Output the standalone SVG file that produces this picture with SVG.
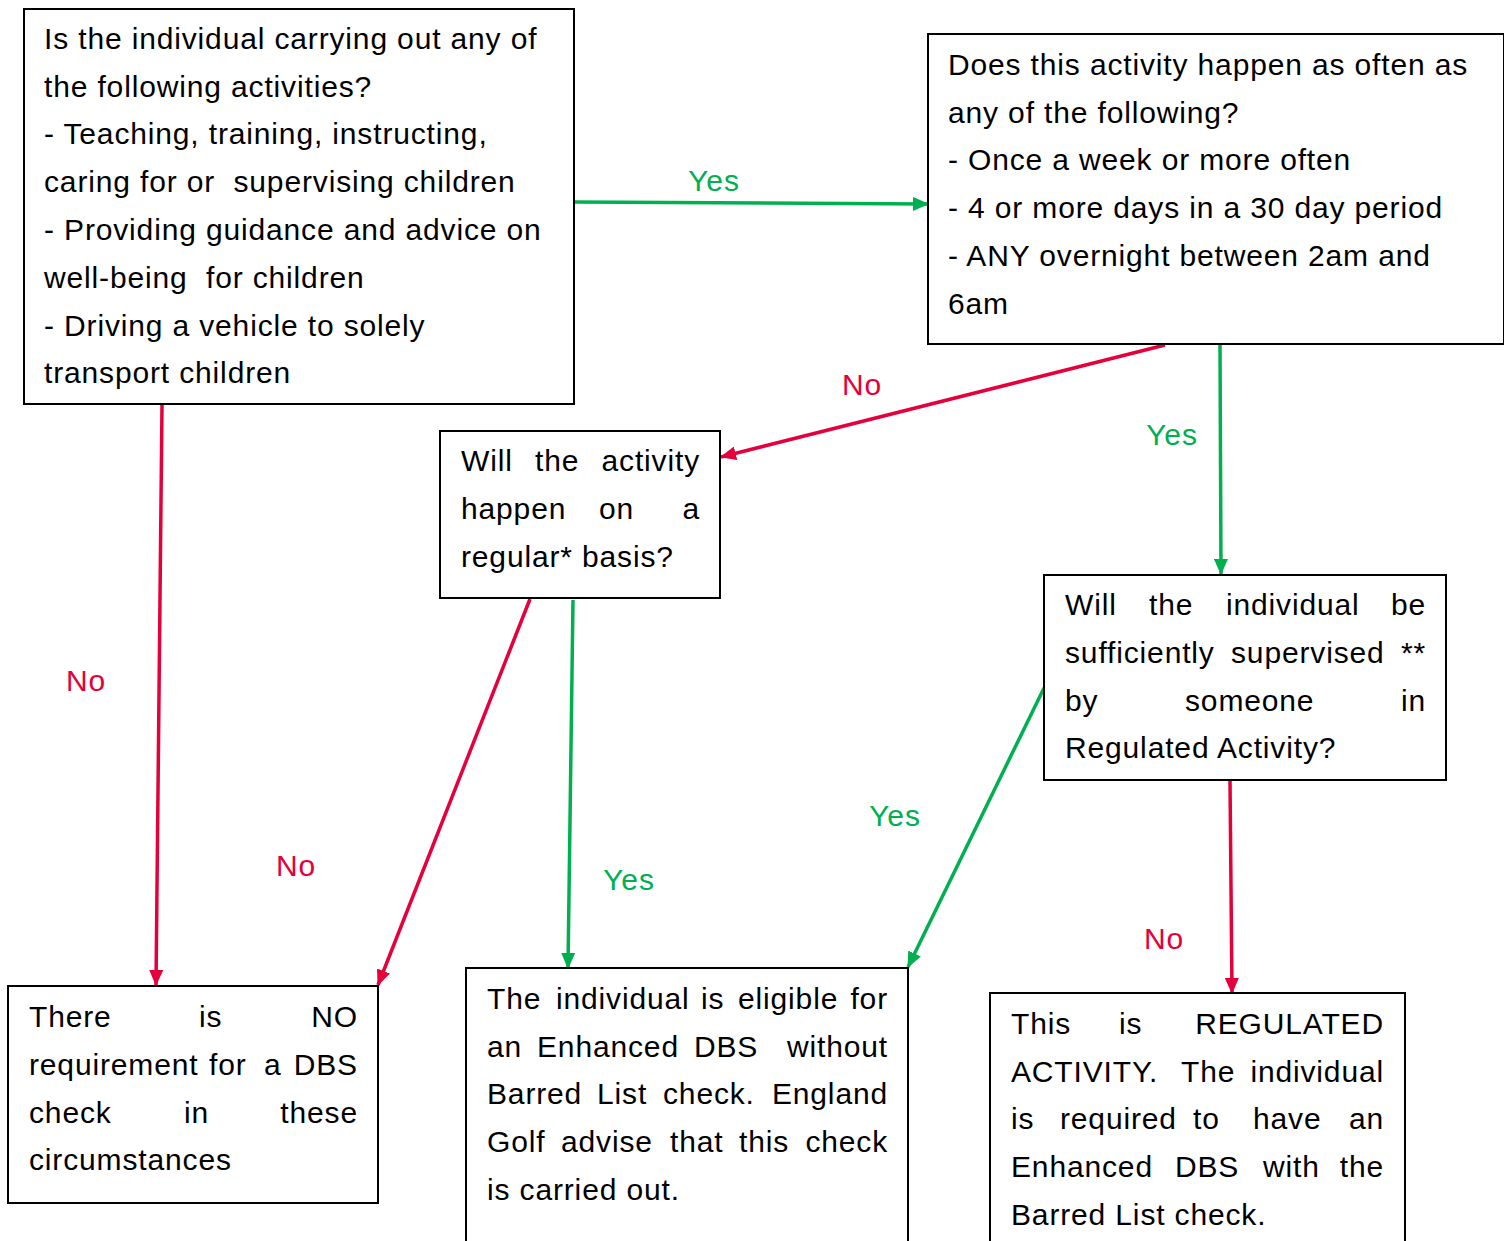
<svg xmlns="http://www.w3.org/2000/svg" width="1504" height="1241" viewBox="0 0 1504 1241">
<style>
.box{fill:#fff;stroke:#000;stroke-width:2}
.t{font-family:"Liberation Sans",Arial,sans-serif;font-size:30px;letter-spacing:0.85px;fill:#000;white-space:pre}
.e{text-anchor:end}
.lbl{font-family:"Liberation Sans",Arial,sans-serif;font-size:30px;letter-spacing:0.85px;text-anchor:middle}
.g{fill:#00B050}
.r{fill:#E4003B}
.cg{stroke:#00B050;stroke-width:3.5;fill:none;marker-end:url(#ag)}
.cr{stroke:#E4003B;stroke-width:3.5;fill:none;marker-end:url(#ar)}
</style>
<defs>
<marker id="ag" markerUnits="userSpaceOnUse" markerWidth="16" markerHeight="14" viewBox="0 0 16 14" refX="15" refY="7" orient="auto"><path d="M0,0 L16,7 L0,14 z" fill="#00B050"/></marker>
<marker id="ar" markerUnits="userSpaceOnUse" markerWidth="16" markerHeight="14" viewBox="0 0 16 14" refX="15" refY="7" orient="auto"><path d="M0,0 L16,7 L0,14 z" fill="#E4003B"/></marker>
</defs>
<rect width="1504" height="1241" fill="#fff"/>

<g id="connectors">
<line class="cg" x1="574" y1="202" x2="928" y2="204"/>
<line class="cr" x1="1165" y1="345" x2="721" y2="457"/>
<line class="cg" x1="1220" y1="345" x2="1221" y2="574"/>
<line class="cr" x1="530" y1="599" x2="378" y2="985"/>
<line class="cg" x1="573" y1="600" x2="568" y2="968"/>
<line class="cr" x1="162" y1="405" x2="156" y2="985"/>
<line class="cg" x1="1044" y1="688" x2="908" y2="967"/>
<line class="cr" x1="1230" y1="781" x2="1232" y2="993"/>
<text class="lbl g" x="714" y="191">Yes</text>
<text class="lbl r" x="862" y="395">No</text>
<text class="lbl g" x="1172" y="445">Yes</text>
<text class="lbl r" x="86" y="691">No</text>
<text class="lbl r" x="296" y="876">No</text>
<text class="lbl g" x="629" y="890">Yes</text>
<text class="lbl g" x="895" y="826">Yes</text>
<text class="lbl r" x="1164" y="949">No</text>
</g>

<g id="nodeA">
<rect class="box" x="24" y="9" width="550" height="395"/>
<text class="t" xml:space="preserve" x="44" y="48.5">Is the individual carrying out any of</text>
<text class="t" xml:space="preserve" x="44" y="96.5">the following activities?</text>
<text class="t" xml:space="preserve" x="44" y="144">- Teaching, training, instructing,</text>
<text class="t" xml:space="preserve" x="44" y="192">caring for or  supervising children</text>
<text class="t" xml:space="preserve" x="44" y="240">- Providing guidance and advice on</text>
<text class="t" xml:space="preserve" x="44" y="288">well-being  for children</text>
<text class="t" xml:space="preserve" x="44" y="335.5">- Driving a vehicle to solely</text>
<text class="t" xml:space="preserve" x="44" y="383">transport children</text>
</g>

<g id="nodeB">
<rect class="box" x="928" y="34" width="576" height="310"/>
<text class="t" x="948" y="74.5">Does this activity happen as often as</text>
<text class="t" x="948" y="122.5">any of the following?</text>
<text class="t" x="948" y="170">- Once a week or more often</text>
<text class="t" x="948" y="218">- 4 or more days in a 30 day period</text>
<text class="t" x="948" y="266">- ANY overnight between 2am and</text>
<text class="t" x="948" y="313.5">6am</text>
</g>

<g id="nodeC">
<rect class="box" x="440" y="431" width="280" height="167"/>
<text class="t" x="461" y="471">Will</text>
<text class="t" x="535" y="471">the</text>
<text class="t e" x="700" y="471">activity</text>
<text class="t" x="461" y="519">happen</text>
<text class="t" x="599" y="519">on</text>
<text class="t e" x="700" y="519">a</text>
<text class="t" x="461" y="566.5">regular* basis?</text>
</g>

<g id="nodeD">
<rect class="box" x="1044" y="575" width="402" height="205"/>
<text class="t" x="1065" y="615">Will</text>
<text class="t" x="1149" y="615">the</text>
<text class="t" x="1226" y="615">individual</text>
<text class="t e" x="1426" y="615">be</text>
<text class="t" x="1065" y="663">sufficiently</text>
<text class="t" x="1231" y="663">supervised</text>
<text class="t e" x="1426" y="663">**</text>
<text class="t" x="1065" y="710.5">by</text>
<text class="t" x="1185" y="710.5">someone</text>
<text class="t e" x="1426" y="710.5">in</text>
<text class="t" x="1065" y="758">Regulated Activity?</text>
</g>

<g id="nodeG">
<rect class="box" x="8" y="986" width="370" height="217"/>
<text class="t" x="29" y="1026.5">There</text>
<text class="t" x="199" y="1026.5">is</text>
<text class="t e" x="358" y="1026.5">NO</text>
<text class="t" x="29" y="1074.5">requirement</text>
<text class="t" x="209" y="1074.5">for</text>
<text class="t" x="264" y="1074.5">a</text>
<text class="t e" x="358" y="1074.5">DBS</text>
<text class="t" x="29" y="1122.5">check</text>
<text class="t" x="184" y="1122.5">in</text>
<text class="t e" x="358" y="1122.5">these</text>
<text class="t" x="29" y="1170">circumstances</text>
</g>

<g id="nodeE">
<rect class="box" x="466" y="968" width="442" height="290"/>
<text class="t" x="487" y="1008.5">The</text>
<text class="t" x="556" y="1008.5">individual</text>
<text class="t" x="701" y="1008.5">is</text>
<text class="t" x="738" y="1008.5">eligible</text>
<text class="t e" x="888" y="1008.5">for</text>
<text class="t" x="487" y="1056.5">an</text>
<text class="t" x="537" y="1056.5">Enhanced</text>
<text class="t" x="694" y="1056.5">DBS</text>
<text class="t e" x="888" y="1056.5">without</text>
<text class="t" x="487" y="1104">Barred</text>
<text class="t" x="597" y="1104">List</text>
<text class="t" x="663" y="1104">check.</text>
<text class="t e" x="888" y="1104">England</text>
<text class="t" x="487" y="1152">Golf</text>
<text class="t" x="561" y="1152">advise</text>
<text class="t" x="670" y="1152">that</text>
<text class="t" x="739" y="1152">this</text>
<text class="t e" x="888" y="1152">check</text>
<text class="t" x="487" y="1200">is carried out.</text>
</g>

<g id="nodeF">
<rect class="box" x="990" y="993" width="415" height="265"/>
<text class="t" x="1011" y="1033.5">This</text>
<text class="t" x="1119" y="1033.5">is</text>
<text class="t e" x="1384" y="1033.5">REGULATED</text>
<text class="t" x="1011" y="1081.5">ACTIVITY.</text>
<text class="t" x="1181" y="1081.5">The</text>
<text class="t e" x="1384" y="1081.5">individual</text>
<text class="t" x="1011" y="1129">is</text>
<text class="t" x="1060" y="1129">required</text>
<text class="t" x="1193" y="1129">to</text>
<text class="t" x="1253" y="1129">have</text>
<text class="t e" x="1384" y="1129">an</text>
<text class="t" x="1011" y="1177">Enhanced</text>
<text class="t" x="1175" y="1177">DBS</text>
<text class="t" x="1263" y="1177">with</text>
<text class="t e" x="1384" y="1177">the</text>
<text class="t" x="1011" y="1225">Barred List check.</text>
</g>
</svg>
